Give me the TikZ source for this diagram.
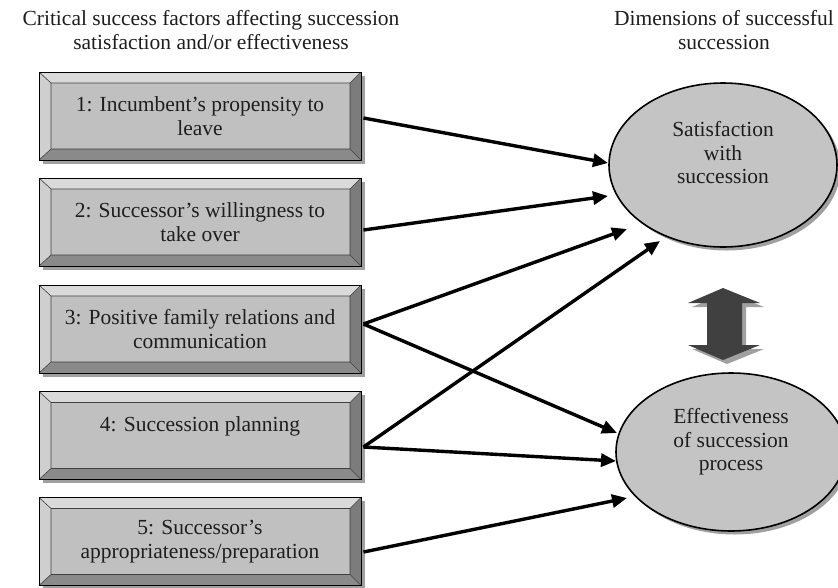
\documentclass[tikz,border=0pt]{standalone}
\usepackage{fontspec}
\setmainfont{Liberation Serif}
\usetikzlibrary{arrows.meta,shapes.geometric,shadows}
\definecolor{facec}{HTML}{C0C0C0}
\definecolor{topc}{HTML}{DADADA}
\definecolor{leftc}{HTML}{CFCFCF}
\definecolor{rightc}{HTML}{7C7C7C}
\definecolor{botc}{HTML}{8A8A8A}
\definecolor{shadc}{HTML}{A0A0A0}
\definecolor{txtc}{HTML}{1E1E1E}
\definecolor{ellc}{HTML}{C4C4C4}
\definecolor{darr}{HTML}{404040}
\begin{document}
\begin{tikzpicture}[x=1pt,y=-1pt,
  txt/.style={font=\fontsize{21.5}{23.5}\selectfont, text=txtc, align=center, inner sep=0pt},
  bevbox/.style={txt, rectangle, draw=black, line width=0.9pt, fill=facec,
     minimum width=322pt, minimum height=88pt,
     drop shadow={shadow xshift=3.5pt, shadow yshift=-3.5pt, fill=shadc, opacity=1},
     path picture={
       \coordinate (NW) at (path picture bounding box.north west);
       \coordinate (NE) at (path picture bounding box.north east);
       \coordinate (SE) at (path picture bounding box.south east);
       \coordinate (SW) at (path picture bounding box.south west);
       \coordinate (iNW) at ([shift={(12pt,-11pt)}]NW);
       \coordinate (iNE) at ([shift={(-11pt,-11pt)}]NE);
       \coordinate (iSE) at ([shift={(-11pt,11pt)}]SE);
       \coordinate (iSW) at ([shift={(12pt,11pt)}]SW);
       \fill[topc] (NW) -- (NE) -- (iNE) -- (iNW) -- cycle;
       \fill[rightc] (NE) -- (SE) -- (iSE) -- (iNE) -- cycle;
       \fill[botc] (SE) -- (SW) -- (iSW) -- (iSE) -- cycle;
       \fill[leftc] (SW) -- (NW) -- (iNW) -- (iSW) -- cycle;
       \draw[black!75, line width=0.6pt] (iNW) -- (iNE) -- (iSE) -- (iSW) -- cycle
         (NW) -- (iNW) (NE) -- (iNE) (SE) -- (iSE) (SW) -- (iSW);
     }},
  ell/.style={ellipse, draw=black, line width=1.6pt, fill=ellc,
     minimum width=228pt, minimum height=164pt, inner sep=0pt,
     drop shadow={shadow xshift=3.5pt, shadow yshift=-3.5pt, fill=shadc, opacity=1}},
  arr/.style={line width=3.4pt, black, -{Triangle[length=15pt,width=13pt]}}
]
\fill[white] (0,0) rectangle (838,587);
\useasboundingbox (0,0) rectangle (838,587);

% headings
\node[txt] (h1) at (211,30) {Critical success factors affecting succession\\satisfaction and/or effectiveness};
\node[txt] (h2) at (724,30) {Dimensions of successful\\succession};

% factor boxes
\node[bevbox] (b1) at (200,116) {1: Incumbent’s propensity to\\leave};
\node[bevbox] (b2) at (200,222) {2: Successor’s willingness to\\take over};
\node[bevbox] (b3) at (200,329) {3: Positive family relations and\\communication};
\node[bevbox] (b4) at (200,435.5) {4: Succession planning\\\mbox{}};
\node[bevbox] (b5) at (200,541.5) {5: Successor’s\\appropriateness/preparation};

% outcome ellipses
\node[ell] (sat) at (723,165) {};
\node[txt] (satt) at (723,153) {Satisfaction\\with\\succession};
\node[ell, minimum width=230pt, minimum height=158pt] (eff) at (731,452) {};
\node[txt] (efft) at (731,442) {Effectiveness\\of succession\\process};

% double arrow between the two dimensions
\fill[shadc] ([shift={(4,4)}]723,288) -- ++(37,15) -- ++(-18,0) -- ++(0,42) -- ++(18,0)
  -- ++(-37,15) -- ++(-35,-15) -- ++(19,0) -- ++(0,-42) -- ++(-19,0) -- cycle;
\fill[darr] (723,288) -- ++(37,15) -- ++(-18,0) -- ++(0,42) -- ++(18,0)
  -- ++(-37,15) -- ++(-35,-15) -- ++(19,0) -- ++(0,-42) -- ++(-19,0) -- cycle;

% connector start and end points
\coordinate (o1) at ([xshift=2pt,yshift=-2pt]b1.east);
\coordinate (o2) at ([xshift=2pt,yshift=-8pt]b2.east);
\coordinate (o3) at ([xshift=2pt,yshift=5pt]b3.east);
\coordinate (o4) at ([xshift=2pt,yshift=-11.5pt]b4.east);
\coordinate (o5) at ([xshift=2pt,yshift=-10.5pt]b5.east);
\coordinate (t1) at (608,163);
\coordinate (t2) at (608,196);
\coordinate (t3) at (627,229);
\coordinate (t4) at (660,241);
\coordinate (t5) at (617,433);
\coordinate (t6) at (616,461);
\coordinate (t7) at (627,498);

\draw[arr] (o1) -- (t1);
\draw[arr] (o2) -- (t2);
\draw[arr] (o3) -- (t3);
\draw[arr] (o3) -- (t5);
\draw[arr] (o4) -- (t4);
\draw[arr] (o4) -- (t6);
\draw[arr] (o5) -- (t7);
\end{tikzpicture}
\end{document}
